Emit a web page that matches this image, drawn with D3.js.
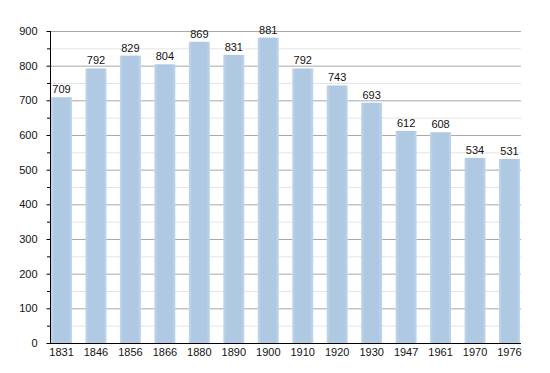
<!DOCTYPE html>
<html><head><meta charset="utf-8">
<script src="https://cdn.jsdelivr.net/npm/d3@7"></script>
<style>body{margin:0;background:#fff}svg{display:block}text{font-family:"Liberation Sans",Arial,sans-serif;fill:#111}</style>
</head><body>
<script>
const years = ["1831","1846","1856","1866","1880","1890","1900","1910","1920","1930","1947","1961","1970","1976"];
const population = [709,792,829,804,869,831,881,792,743,693,612,608,534,531];
const yTicks = [0,100,200,300,400,500,600,700,800,900];
const yMinor = [50,150,250,350,450,550,650,750,850];

const W=550,H=373;
const svg=d3.select("body").append("svg").attr("width",W).attr("height",H);
const y=d3.scaleLinear().domain([0,900]).range([343,31]);
const x=d3.scaleBand().domain(years).range([51,520]).paddingInner(0.39).paddingOuter(0);
const L=50,R=521;

const defs=svg.append("defs");
const g=defs.append("linearGradient").attr("id","bg").attr("x1",0).attr("x2",1).attr("y1",0).attr("y2",0);
g.append("stop").attr("offset","0%").attr("stop-color","#c2d6ea");
g.append("stop").attr("offset","15%").attr("stop-color","#b0c9e3");
g.append("stop").attr("offset","85%").attr("stop-color","#b0c9e3");
g.append("stop").attr("offset","100%").attr("stop-color","#c2d6ea");

svg.append("g").selectAll("line").data(yMinor).join("line")
 .attr("x1",L).attr("x2",R).attr("y1",d=>y(d)+0.5).attr("y2",d=>y(d)+0.5)
 .attr("stroke","#e4e4e4").attr("stroke-width",1);
svg.append("g").selectAll("line").data(yTicks.slice(1)).join("line")
 .attr("x1",L).attr("x2",R).attr("y1",d=>y(d)+0.5).attr("y2",d=>y(d)+0.5)
 .attr("stroke","#a8a8a8").attr("stroke-width",1);

svg.append("g").selectAll("rect").data(population).join("rect")
 .attr("x",(d,i)=>x(years[i])).attr("width",x.bandwidth())
 .attr("y",d=>y(d)).attr("height",d=>y(0)-y(d)).attr("fill","url(#bg)");

svg.append("g").selectAll("text").data(population).join("text")
 .attr("x",(d,i)=>x(years[i])+x.bandwidth()/2).attr("y",d=>y(d)-4)
 .attr("text-anchor","middle").attr("font-size",11).text(d=>d);

// y axis
const ya=svg.append("g").attr("transform",`translate(${L+0.5},0)`)
 .call(d3.axisLeft(y).tickValues(yTicks).tickSize(4).tickPadding(9).tickFormat(d3.format("d")));
ya.select(".domain").attr("d",`M0,${y(0)}V${y(900)}`).attr("stroke","#000");
ya.selectAll("text").attr("font-size",11).attr("fill","#111").style("font-family","Liberation Sans, Arial, sans-serif");
svg.append("g").selectAll("line").data(yMinor).join("line")
 .attr("x1",L-3).attr("x2",L).attr("y1",d=>y(d)+0.5).attr("y2",d=>y(d)+0.5).attr("stroke","#000");

// x axis
const xa=svg.append("g").attr("transform",`translate(0,${y(0)+0.5})`)
 .call(d3.axisBottom(x).tickSize(0).tickPadding(5));
xa.select(".domain").attr("d",`M${L},0H${R}`).attr("stroke","#000");
xa.selectAll("text").attr("font-size",11).attr("fill","#111").style("font-family","Liberation Sans, Arial, sans-serif");
</script>
</body></html>
